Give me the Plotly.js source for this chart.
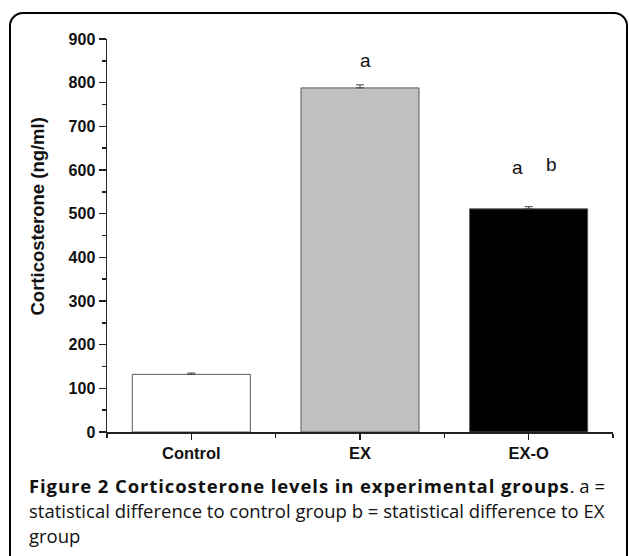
<!DOCTYPE html>
<html>
<head>
<meta charset="utf-8">
<script src="https://cdn.plot.ly/plotly-3.0.1.min.js"></script>
<style>
  html, body { margin: 0; padding: 0; background: #fff; }
  #wrap { position: relative; width: 629px; height: 556px; overflow: hidden; }
  #chart { position: absolute; left: 0; top: 0; width: 629px; height: 556px; }
  #frame { position: absolute; left: 9px; top: 12px; width: 619px; height: 600px;
           border: 2px solid #000; border-radius: 14px; pointer-events: none; box-sizing: border-box; }
</style>
</head>
<body>
<div id="wrap">
  <div id="chart"></div>
  <div id="frame"></div>
</div>
<script>
// ---- data ----
const categories = ["Control", "EX", "EX-O"];
const means = [132, 788, 511];
const errors = [3, 7, 5];
const yTicks = [0, 100, 200, 300, 400, 500, 600, 700, 800, 900];
const sigLetters = ["a", "a", "b"];
const sigX = [1.03, 1.935, 2.137];
const sigY = [850, 605, 612];
const yTitle = "Corticosterone (ng/ml)";

const xIdx = categories.map((c, i) => i);

const trace = {
  type: "bar",
  x: xIdx,
  y: means,
  width: 0.7,
  marker: {
    color: ["#ffffff", "#c0c0c0", "#000000"],
    line: { color: "#5a5a5a", width: 1 }
  },
  error_y: {
    type: "data", symmetric: false, array: errors, arrayminus: errors.map(() => 0),
    color: "#444444", thickness: 1, width: 4
  },
  hoverinfo: "skip"
};

const letterAnn = sigLetters.map((t, i) => ({
  x: sigX[i], y: sigY[i], xref: "x", yref: "y", text: t, showarrow: false,
  font: { family: "Arial, Liberation Sans, sans-serif", size: 19, color: "#111" },
  xanchor: "center", yanchor: "middle"
}));

const titleAnn = {
  xref: "paper", yref: "paper", x: 0, y: 0.5, xshift: -70, yshift: 19,
  xanchor: "center", yanchor: "middle", textangle: -90, showarrow: false,
  text: "<b>" + yTitle + "</b>",
  font: { family: "Arial, Liberation Sans, sans-serif", size: 18.5, color: "#111" }
};

const capFont = { family: "Open Sans, sans-serif", size: 18.5, color: "#111" };
const captionAnn = [
  { text: "<b><span style=\"letter-spacing:0.9px\">Figure 2 Corticosterone levels in experimental groups</span></b>. a =", yshift: -53.5 },
  { text: "statistical difference to control group b = statistical difference to EX", yshift: -78.5 },
  { text: "group", yshift: -103.5 }
].map(c => ({
  xref: "paper", yref: "paper", x: 0, y: 0, xshift: -80, yshift: c.yshift,
  xanchor: "left", yanchor: "middle", text: c.text, showarrow: false, font: capFont
}));

const layout = {
  width: 629, height: 556,
  margin: { l: 107, r: 16, t: 39, b: 124 },
  paper_bgcolor: "rgba(0,0,0,0)", plot_bgcolor: "rgba(0,0,0,0)",
  showlegend: false,
  xaxis: {
    range: [-0.5, 2.5], tickvals: xIdx, ticktext: categories,
    showgrid: false, zeroline: false, showline: true, linecolor: "#222", linewidth: 1.5,
    ticks: "outside", ticklen: 6, tickwidth: 1.5, tickcolor: "#222",
    tickfont: { family: "Arial, Liberation Sans, sans-serif", size: 16.5, color: "#111", weight: "bold" },
    minor: { tick0: 0.5, dtick: 1, ticks: "outside", ticklen: 4, tickwidth: 1.5, tickcolor: "#222", showgrid: false },
    fixedrange: true
  },
  yaxis: {
    range: [0, 900], tickvals: yTicks,
    showgrid: false, zeroline: false, showline: true, linecolor: "#222", linewidth: 1.5,
    ticks: "outside", ticklen: 7, tickwidth: 1.5, tickcolor: "#222",
    tickfont: { family: "Arial, Liberation Sans, sans-serif", size: 16, color: "#111", weight: "bold" },
    minor: { dtick: 50, ticks: "outside", ticklen: 4, tickwidth: 1.5, tickcolor: "#222", showgrid: false },
    fixedrange: true
  },
  annotations: letterAnn.concat([titleAnn], captionAnn)
};

Plotly.newPlot("chart", [trace], layout, { displayModeBar: false, staticPlot: true });
</script>
</body>
</html>
